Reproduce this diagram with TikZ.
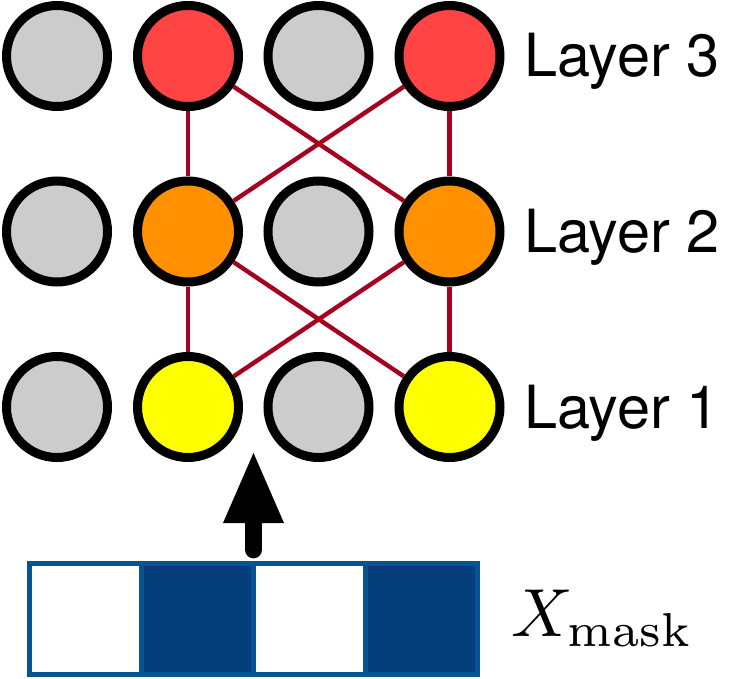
\documentclass[tikz,border=0pt]{standalone}
\usepackage{fix-cm}
\usepackage{fontspec}
\newfontfamily\helv{TeX Gyre Heros}
\usetikzlibrary{arrows.meta}
\definecolor{cgray}{RGB}{204,204,204}
\definecolor{cred}{RGB}{255,68,68}
\definecolor{corange}{RGB}{255,145,0}
\definecolor{cyellow}{RGB}{255,255,0}
\definecolor{clink}{RGB}{165,0,33}
\definecolor{mborder}{RGB}{6,85,145}
\definecolor{mfill}{RGB}{6,62,124}
\tikzset{
  neuron/.style={circle,draw=black,line width=9pt,minimum size=101pt,inner sep=0pt},
  link/.style={draw=clink,line width=4.4pt},
  layerlabel/.style={anchor=base west,inner sep=0pt,font=\helv\fontsize{59.5}{66}\selectfont},
  cell/.style={rectangle,draw=mborder,line width=5pt,minimum width=112.15pt,minimum height=111.5pt,inner sep=0pt},
  bigarrow/.style={draw=black,line width=17.7pt,line cap=round,-{Triangle[length=73pt,width=55pt]}}
}
\begin{document}
\begin{tikzpicture}[x=1pt,y=-1pt]
\useasboundingbox (0,0) rectangle (747,679);
% layer 3
\node[neuron,fill=cgray] (a1) at (57,56) {};
\node[neuron,fill=cred] (a2) at (188,56) {};
\node[neuron,fill=cgray] (a3) at (318.5,56) {};
\node[neuron,fill=cred] (a4) at (449.5,56) {};
% layer 2
\node[neuron,fill=cgray] (b1) at (57,231.5) {};
\node[neuron,fill=corange] (b2) at (188,231.5) {};
\node[neuron,fill=cgray] (b3) at (318.5,231.5) {};
\node[neuron,fill=corange] (b4) at (449.5,231.5) {};
% layer 1
\node[neuron,fill=cgray] (c1) at (57,407) {};
\node[neuron,fill=cyellow] (c2) at (188,407) {};
\node[neuron,fill=cgray] (c3) at (318.5,407) {};
\node[neuron,fill=cyellow] (c4) at (449.5,407) {};
% links
\draw[link] (a2) -- (b2);
\draw[link] (a2) -- (b4);
\draw[link] (a4) -- (b2);
\draw[link] (a4) -- (b4);
\draw[link] (b2) -- (c2);
\draw[link] (b2) -- (c4);
\draw[link] (b4) -- (c2);
\draw[link] (b4) -- (c4);
% labels
\node[layerlabel] (l3) at (524,76.7) {Layer 3};
\node[layerlabel] (l2) at (524,252.7) {Layer 2};
\node[layerlabel] (l1) at (524,428.3) {Layer 1};
% mask
\node[cell,fill=white] (m1) at (85.1,618.8) {};
\node[cell,fill=mfill] (m2) at (197.2,618.8) {};
\node[cell,fill=white] (m3) at (309.4,618.8) {};
\node[cell,fill=mfill] (m4) at (421.5,618.8) {};
\node[anchor=base west,inner sep=0pt,scale=6.8,font=\fontsize{10}{12}\selectfont] (xm) at (510,636.7) {$X_{\mathrm{mask}}$};
% arrow
\coordinate (as) at (253.5,549.5);
\coordinate (ae) at (253.5,450);
\draw[bigarrow] (as) -- (ae);
\end{tikzpicture}
\end{document}
